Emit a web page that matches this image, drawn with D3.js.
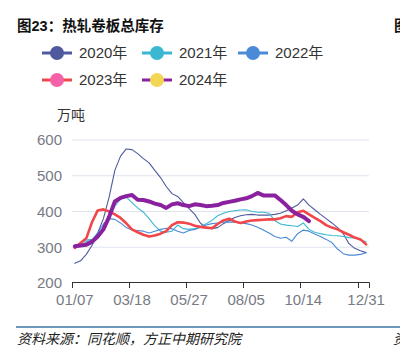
<!DOCTYPE html>
<html><head><meta charset="utf-8">
<script src="https://cdn.jsdelivr.net/npm/d3@7"></script>
<style>
html,body{margin:0;padding:0;background:#fff;}
svg{display:block;}
text{font-family:Arial,"Liberation Sans","Noto Sans CJK SC",sans-serif;}
</style></head>
<body><svg id="c" width="400" height="348"></svg>
<script>
const categories = ["01/07","01/14","01/21","01/28","02/04","02/11","02/18","02/25","03/04","03/11",
"03/18","03/25","04/01","04/08","04/15","04/22","04/29","05/06","05/13","05/20",
"05/27","06/03","06/10","06/17","06/24","07/01","07/08","07/15","07/22","07/29",
"08/05","08/12","08/19","08/26","09/02","09/09","09/16","09/23","09/30","10/07",
"10/14","10/21","10/28","11/04","11/11","11/18","11/25","12/02","12/09","12/16",
"12/23","12/31"];
const tickLabelIdx = [0,10,20,30,40,51];
const tickMarkIdx = [0,10,20,30,40,50];
const yTicks = [200,300,400,500,600];
const seriesNames = ["2020年","2021年","2022年","2023年","2024年"];
const lineColors = ["#4f5a9e","#3bb7d2","#4a8ad6","#f2474a","#8a219f"];
const markerColors = ["#4f5a9e","#3bb7d2","#4a8ad6","#f562a8","#f2d654"];
const lineWidths = [1.1,1.1,1.1,2.6,4];
const v2020 = [255,262,280,305,340,380,440,515,555,575,573,562,548,536,515,495,470,450,442,425,408,392,367,355,352,355,366,375,383,388,391,392,390,390,390,392,395,402,410,418,435,418,405,392,380,368,355,338,310,297,290,285];
const v2021 = [300,312,320,322,325,350,385,415,435,440,425,410,398,380,360,345,342,345,362,352,350,352,358,366,375,388,395,400,402,404,405,400,398,398,395,375,365,362,360,358,368,350,342,338,335,333,332,330,327,326,322,315];
const v2022 = [300,305,315,320,340,365,380,378,368,355,348,347,345,340,345,350,353,352,345,340,347,350,356,362,366,368,370,371,370,368,366,362,356,348,340,330,325,328,317,338,348,345,337,330,322,313,295,282,278,278,280,285];
const v2023 = [298,312,325,370,403,406,400,392,382,367,350,342,335,330,333,338,345,362,370,369,366,360,357,355,353,365,375,380,372,368,372,375,376,377,378,378,381,387,385,398,402,392,382,373,362,355,350,342,335,327,322,308];
const v2024 = [303,305,307,315,330,350,385,428,438,443,446,433,432,428,422,418,410,420,423,418,415,420,418,415,416,418,424,427,430,434,437,443,452,445,445,445,432,418,402,392,385,373];
const allSeries = [v2020,v2021,v2022,v2023,v2024];

const svg = d3.select("#c");
const x = d3.scaleBand().domain(categories).range([72,369]).paddingInner(0).paddingOuter(0);
const y = d3.scaleLinear().domain([200,600]).range([283,140]);
const bw = x.bandwidth();

// title
svg.append("text").attr("x",17).attr("y",31).attr("font-size",14.5).attr("font-weight","bold").attr("fill","#111").text("图23：热轧卷板总库存");
svg.append("text").attr("x",394).attr("y",31).attr("font-size",14.5).attr("font-weight","bold").attr("fill","#111").text("图");

// legend
const legPos = [[42,53],[142,53],[238,53],[42,80],[142,80]];
seriesNames.forEach((n,i)=>{
  const [lx,ly] = legPos[i];
  const g = svg.append("g");
  g.append("line").attr("x1",lx).attr("x2",lx+30).attr("y1",ly).attr("y2",ly).attr("stroke",lineColors[i]).attr("stroke-width",3);
  g.append("circle").attr("cx",lx+15).attr("cy",ly).attr("r",7).attr("fill",markerColors[i]);
  g.append("text").attr("x",lx+37).attr("y",ly).attr("dy","0.36em").attr("font-size",15).attr("fill","#333").text(n);
});

// unit
svg.append("text").attr("x",57).attr("y",115).attr("dy","0.36em").attr("font-size",14).attr("fill","#333").text("万吨");

// grid
svg.append("g").selectAll("line").data(yTicks.filter(d=>d>200)).join("line")
  .attr("x1",72).attr("x2",369).attr("y1",d=>y(d)).attr("y2",d=>y(d))
  .attr("stroke","#dfe3ec").attr("stroke-width",1);

// y labels
const ya = svg.append("g").attr("transform","translate(66,0)").call(d3.axisLeft(y).tickValues(yTicks).tickSize(0).tickPadding(4));
ya.select(".domain").remove();
ya.selectAll("text").attr("font-size",15).attr("fill","#777a84").attr("font-family",'Arial,"Liberation Sans",sans-serif');

// x axis
svg.append("line").attr("x1",72).attr("x2",369.5).attr("y1",282.5).attr("y2",282.5).attr("stroke","#333").attr("stroke-width",1);
const tickXs = tickMarkIdx.map(i=>x(categories[i])).concat([x.range()[1]]);
svg.append("g").selectAll("line").data(tickXs).join("line")
  .attr("x1",d=>Math.round(d)+0.5).attr("x2",d=>Math.round(d)+0.5).attr("y1",282.5).attr("y2",288)
  .attr("stroke","#333").attr("stroke-width",1);
svg.append("g").selectAll("text").data(tickLabelIdx).join("text")
  .attr("x",i=>x(categories[i])+bw/2).attr("y",305).attr("text-anchor","middle")
  .attr("font-size",15).attr("fill","#777a84").text(i=>categories[i]);

// lines
const line = d3.line().x((d,i)=>x(categories[i])+bw/2).y(d=>y(d));
allSeries.forEach((s,k)=>{
  svg.append("path").datum(s).attr("d",line).attr("fill","none")
    .attr("stroke",lineColors[k]).attr("stroke-width",lineWidths[k]).attr("stroke-linejoin","round").attr("stroke-linecap","round");
});

// footer
svg.append("line").attr("x1",16).attr("x2",400).attr("y1",327).attr("y2",327).attr("stroke","#3f74a8").attr("stroke-width",1.5);
svg.append("text").attr("x",17).attr("y",344).attr("font-size",14).attr("font-style","italic").attr("fill","#222").text("资料来源：同花顺，方正中期研究院");
svg.append("text").attr("x",393).attr("y",344).attr("font-size",14).attr("font-style","italic").attr("fill","#222").text("资");
</script></body></html>
